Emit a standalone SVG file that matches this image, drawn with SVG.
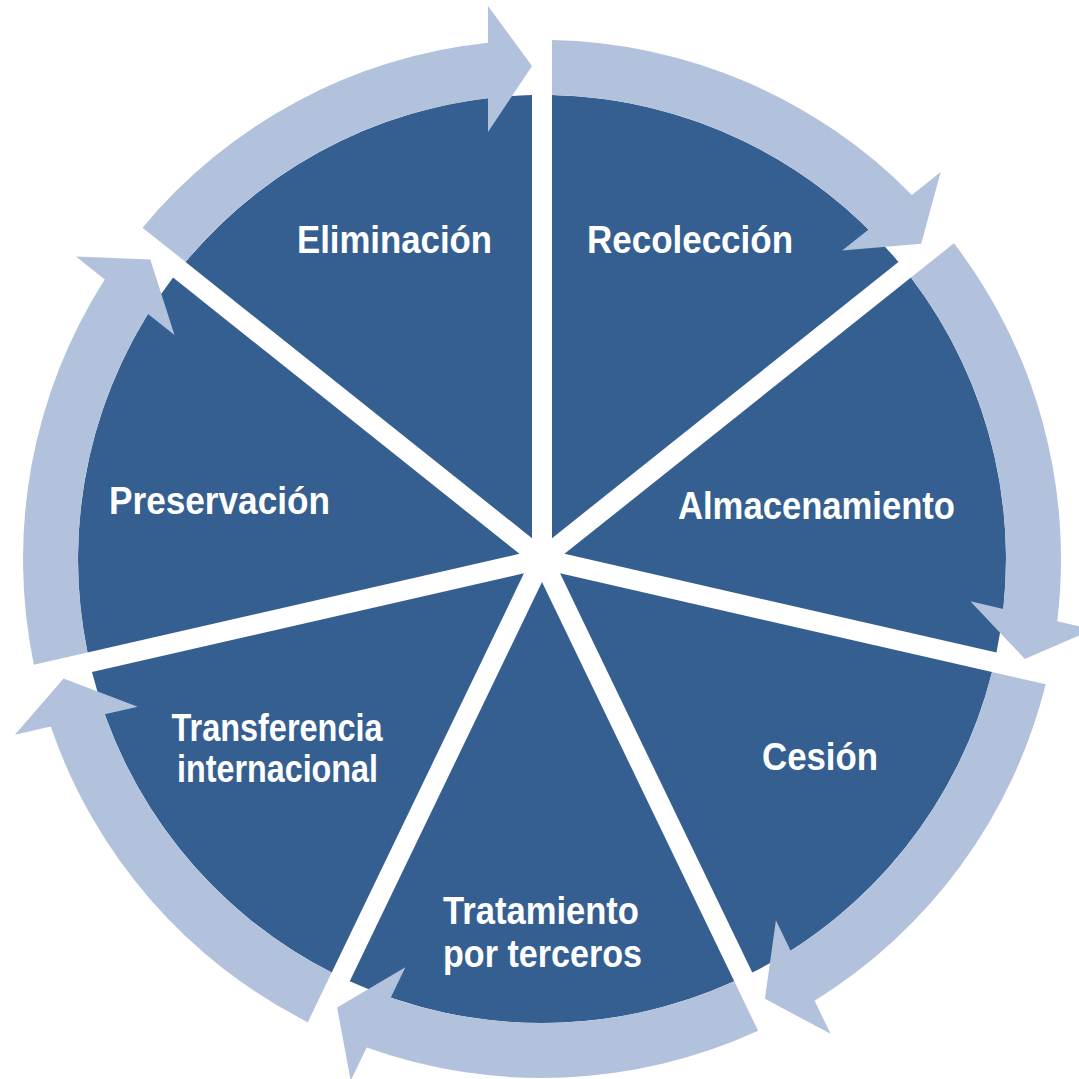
<svg xmlns="http://www.w3.org/2000/svg" width="1079" height="1079" viewBox="0 0 1079 1079">
  <style>
    .wedge { fill: #365F91; }
    .arrow { fill: #B2C2DC; }
    .lbl { fill: #FFFFFF; font-family: "Liberation Sans Narrow", "Arial Narrow", "Liberation Sans", Arial, sans-serif; font-weight: bold; font-size: 39px; text-anchor: middle; }
  </style>
  <defs>
    <path id="wedge" d="M 532 538.23 L 532 95.11 A 464 464 0 0 0 185.55 261.95 Z"/>
    <path id="arrow" d="M 142.54 227.65 A 519 519 0 0 1 488 42.82 L 488 6 L 532 66 L 488 132 L 488 98.15 A 464 464 0 0 0 185.55 261.95 Z"/>
  </defs>
  <rect x="0" y="0" width="1079" height="1079" fill="#FFFFFF"/>

  <g id="node-eliminacion">
    <use href="#wedge" class="wedge" transform="rotate(0 542 559)"/>
    <text class="lbl" x="394.5" y="253" textLength="195" lengthAdjust="spacingAndGlyphs">Eliminación</text>
  </g>
  <g id="node-recoleccion">
    <use href="#wedge" class="wedge" transform="rotate(51.4286 542 559)"/>
    <text class="lbl" x="690" y="253" textLength="206" lengthAdjust="spacingAndGlyphs">Recolección</text>
  </g>
  <g id="node-almacenamiento">
    <use href="#wedge" class="wedge" transform="rotate(102.8571 542 559)"/>
    <text class="lbl" x="816.5" y="519" textLength="277" lengthAdjust="spacingAndGlyphs">Almacenamiento</text>
  </g>
  <g id="node-cesion">
    <use href="#wedge" class="wedge" transform="rotate(154.2857 542 559)"/>
    <text class="lbl" x="820" y="770" textLength="116" lengthAdjust="spacingAndGlyphs">Cesión</text>
  </g>
  <g id="node-tratamiento">
    <use href="#wedge" class="wedge" transform="rotate(205.7143 542 559)"/>
    <text class="lbl" x="541" y="924" textLength="196" lengthAdjust="spacingAndGlyphs">Tratamiento</text>
    <text class="lbl" x="542.5" y="967" textLength="199" lengthAdjust="spacingAndGlyphs">por terceros</text>
  </g>
  <g id="node-transferencia">
    <use href="#wedge" class="wedge" transform="rotate(257.1429 542 559)"/>
    <text class="lbl" x="277" y="741" textLength="211" lengthAdjust="spacingAndGlyphs">Transferencia</text>
    <text class="lbl" x="277.5" y="782" textLength="201" lengthAdjust="spacingAndGlyphs">internacional</text>
  </g>
  <g id="node-preservacion">
    <use href="#wedge" class="wedge" transform="rotate(308.5714 542 559)"/>
    <text class="lbl" x="219.5" y="514" textLength="221" lengthAdjust="spacingAndGlyphs">Preservación</text>
  </g>

  <g id="connectors">
    <use href="#arrow" class="arrow" transform="rotate(0 542 559)"/>
    <use href="#arrow" class="arrow" transform="rotate(51.4286 542 559)"/>
    <use href="#arrow" class="arrow" transform="rotate(102.8571 542 559)"/>
    <use href="#arrow" class="arrow" transform="rotate(154.2857 542 559)"/>
    <use href="#arrow" class="arrow" transform="rotate(205.7143 542 559)"/>
    <use href="#arrow" class="arrow" transform="rotate(257.1429 542 559)"/>
    <use href="#arrow" class="arrow" transform="rotate(308.5714 542 559)"/>
  </g>
</svg>
